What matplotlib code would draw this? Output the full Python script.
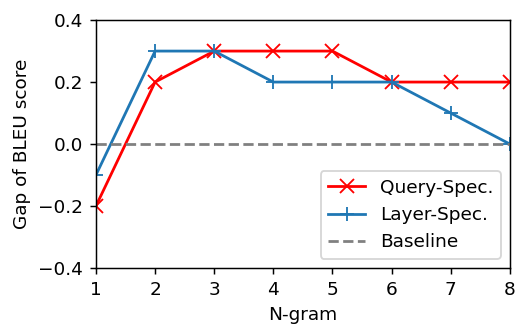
import matplotlib
matplotlib.use("Agg")
import matplotlib.pyplot as plt

ngram = [1, 2, 3, 4, 5, 6, 7, 8]
query_spec = [-0.2, 0.2, 0.3, 0.3, 0.3, 0.2, 0.2, 0.2]
layer_spec = [-0.1, 0.3, 0.3, 0.2, 0.2, 0.2, 0.1, 0.0]
baseline = [0, 0, 0, 0, 0, 0, 0, 0]
yticks = [-0.4, -0.2, 0.0, 0.2, 0.4]

DPI = 133
plt.rcParams['font.size'] = 10
fig, ax = plt.subplots(figsize=(516 / DPI, 324 / DPI), dpi=DPI)
fig.subplots_adjust(left=0.186, right=0.988, top=0.938, bottom=0.173)

ax.plot(ngram, query_spec, color='red', marker='x', markersize=7.5, linewidth=1.5, label='Query-Spec.')
ax.plot(ngram, layer_spec, color='#1f77b4', marker='+', markersize=7.5, linewidth=1.5, label='Layer-Spec.')
ax.plot(ngram, baseline, color='gray', linestyle='--', linewidth=1.5, label='Baseline')

ax.set_xlim(1, 8)
ax.set_ylim(-0.4, 0.4)
ax.set_yticks(yticks)
ax.set_xticks(ngram)
ax.set_xlabel('N-gram')
ax.set_ylabel('Gap of BLEU score')
ax.legend(loc='lower right')

fig.savefig('out.png', dpi=DPI)
